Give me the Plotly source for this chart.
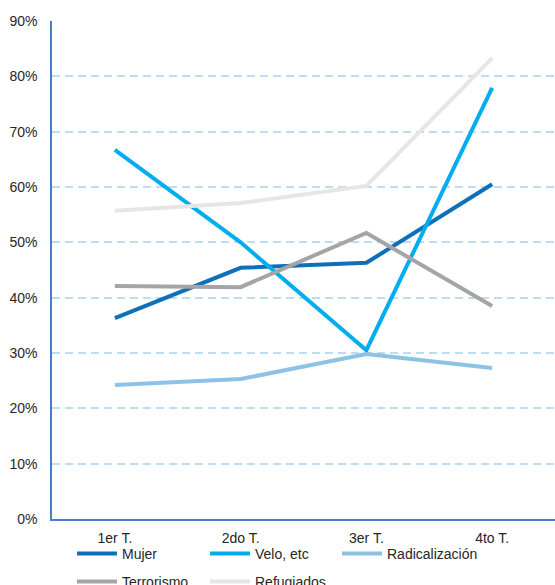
import plotly.graph_objects as go

quarters = ["1er T.", "2do T.", "3er T.", "4to T."]
mujer = [0.363, 0.454, 0.463, 0.605]
velo = [0.667, 0.500, 0.305, 0.779]
radicalizacion = [0.242, 0.253, 0.298, 0.273]
terrorismo = [0.421, 0.419, 0.517, 0.385]
refugiados = [0.557, 0.571, 0.602, 0.833]

y_ticks = [0, 0.1, 0.2, 0.3, 0.4, 0.5, 0.6, 0.7, 0.8, 0.9]

series = [
    ("Mujer", mujer, "#0E70B8"),
    ("Velo, etc", velo, "#00AEEF"),
    ("Radicalización", radicalizacion, "#8DC2E6"),
    ("Terrorismo", terrorismo, "#A5A5A5"),
    ("Refugiados", refugiados, "#E6E6E6"),
]

# legend grid: (left pixel, centre pixel) of each entry, 3 per row
legend_slots = [(72, 554), (205, 554), (337, 554), (72, 582), (205, 582)]

font = dict(family="Liberation Sans, Arial, sans-serif", size=14, color="#262626")

fig = go.Figure()
legend_layouts = {}
for i, ((name, vals, color), (lx, ly)) in enumerate(zip(series, legend_slots)):
    key = "legend" if i == 0 else f"legend{i + 1}"
    fig.add_trace(go.Scatter(
        x=quarters, y=vals, name=name, mode="lines",
        line=dict(color=color, width=4),
        legend=key,
    ))
    legend_layouts[key] = dict(
        orientation="h", xref="container", yref="container",
        x=lx / 555, y=1 - ly / 585, xanchor="left", yanchor="middle",
        font=font, bgcolor="rgba(0,0,0,0)", borderwidth=0, itemwidth=40,
    )

fig.update_layout(
    width=555, height=585,
    margin=dict(l=52, r=0, t=21, b=66, autoexpand=False),
    paper_bgcolor="white", plot_bgcolor="white",
    font=font,
    showlegend=True,
    xaxis=dict(
        type="category", range=[-0.5, 3.5],
        showgrid=False, showline=True, linecolor="#4A7BD0", linewidth=1.5,
        ticks="", tickfont=font, fixedrange=True, ticklabelstandoff=5,
        automargin=False,
    ),
    yaxis=dict(
        range=[0, 0.9], tickvals=y_ticks, tickformat=".0%",
        showgrid=True, gridcolor="#BCDDF3", griddash="8px,5px", gridwidth=1.5,
        showline=True, linecolor="#4A7BD0", linewidth=1.5,
        zeroline=False, ticks="", ticklen=0, tickfont=font,
        fixedrange=True, ticklabelstandoff=10, automargin=False,
    ),
    **legend_layouts,
)

fig.write_html("out.html")
